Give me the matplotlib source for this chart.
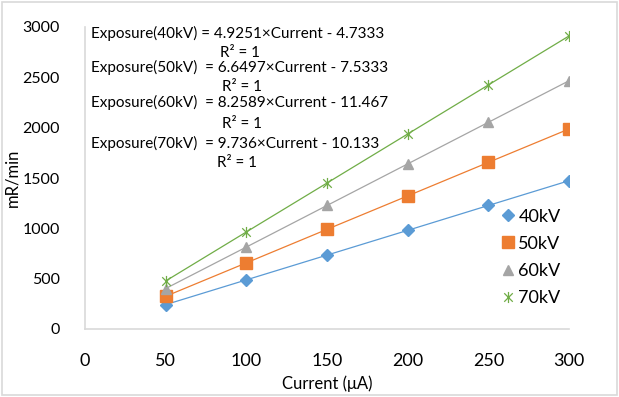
import matplotlib
matplotlib.use("Agg")
import matplotlib.pyplot as plt
from matplotlib.path import Path
from matplotlib.patches import Rectangle

plt.rcParams['font.family'] = ['Lato', 'DejaVu Sans']

current = [50, 100, 150, 200, 250, 300]
exp_40kv = [242, 488, 734, 980, 1227, 1473]
exp_50kv = [325, 657, 990, 1322, 1655, 1987]
exp_60kv = [402, 814, 1227, 1640, 2053, 2466]
exp_70kv = [477, 964, 1450, 1937, 2424, 2911]
series_labels = ['40kV', '50kV', '60kV', '70kV']
equations = [
    ("Exposure(40kV) = 4.9251×Current - 4.7333", "R² = 1"),
    ("Exposure(50kV)  = 6.6497×Current - 7.5333", "R² = 1"),
    ("Exposure(60kV)  = 8.2589×Current - 11.467", "R² = 1"),
    ("Exposure(70kV)  = 9.736×Current - 10.133", "R² = 1"),
]
x_ticks = [0, 50, 100, 150, 200, 250, 300]
y_ticks = [0, 500, 1000, 1500, 2000, 2500, 3000]

colors = ['#5B9BD5', '#ED7D31', '#A5A5A5', '#70AD47']

star = Path([(-1, -1), (1, 1), (-1, 1), (1, -1), (0, -1.3), (0, 1.3)],
            [Path.MOVETO, Path.LINETO, Path.MOVETO, Path.LINETO, Path.MOVETO, Path.LINETO])

fig = plt.figure(figsize=(6.19, 3.97), dpi=100)
fig.patches.append(Rectangle((0.004, 0.006), 0.992, 0.988, transform=fig.transFigure,
                             fill=False, edgecolor='#d9d9d9', linewidth=1.2))
ax = fig.add_axes([85/619, 1-329/397, (569-85)/619, (329-27)/397])

series = [exp_40kv, exp_50kv, exp_60kv, exp_70kv]
markers = ['D', 's', '^', star]
msizes = [6.5, 8, 7.5, 8]
for vals, c, m, ms, lab in zip(series, colors, markers, msizes, series_labels):
    if m is star:
        ax.plot(current, vals, color=c, linewidth=0.9, marker=m, markersize=ms,
                markeredgecolor=c, markerfacecolor='none', markeredgewidth=0.9, label=lab)
    else:
        ax.plot(current, vals, color=c, linewidth=0.9, marker=m, markersize=ms,
                markeredgecolor=c, markerfacecolor=c, label=lab)

ax.set_xlim(0, 300)
ax.set_ylim(0, 3000)
ax.set_xticks(x_ticks)
ax.set_yticks(y_ticks)
ax.set_xticklabels([str(v) for v in x_ticks], fontsize=13)
ax.set_yticklabels([str(v) for v in y_ticks], fontsize=11.5)
ax.tick_params(axis='both', length=0, colors='#000000')
ax.tick_params(axis='x', pad=17)
ax.tick_params(axis='y', pad=18)
for s in ['top', 'right']:
    ax.spines[s].set_visible(False)
for s in ['left', 'bottom']:
    ax.spines[s].set_color('#d9d9d9')
    ax.spines[s].set_linewidth(1.2)

ax.set_xlabel('Current (μA)', fontsize=12, labelpad=5)
ax.set_ylabel('mR/min', fontsize=12)
ax.yaxis.set_label_coords((20 - 85) / 484, (329 - 178) / 302)

eq_y = [33, 67, 102, 143]
r2_y = [53, 87, 124, 163]
r2_x = [240, 242, 242, 237]
for (eq, r2), yy, ry, rx in zip(equations, eq_y, r2_y, r2_x):
    fig.text(91/619, 1-yy/397, eq, fontsize=11, ha='left', va='center')
    fig.text(rx/619, 1-ry/397, r2, fontsize=11, ha='center', va='center')

leg = ax.legend(loc='lower right', bbox_to_anchor=(1.005, 0.04), frameon=False, fontsize=13,
                handlelength=0.6, handletextpad=0.3, labelspacing=0.62, borderaxespad=0.2)
for h in leg.legend_handles:
    h.set_linestyle('none')

fig.savefig('out.png', dpi=100)
